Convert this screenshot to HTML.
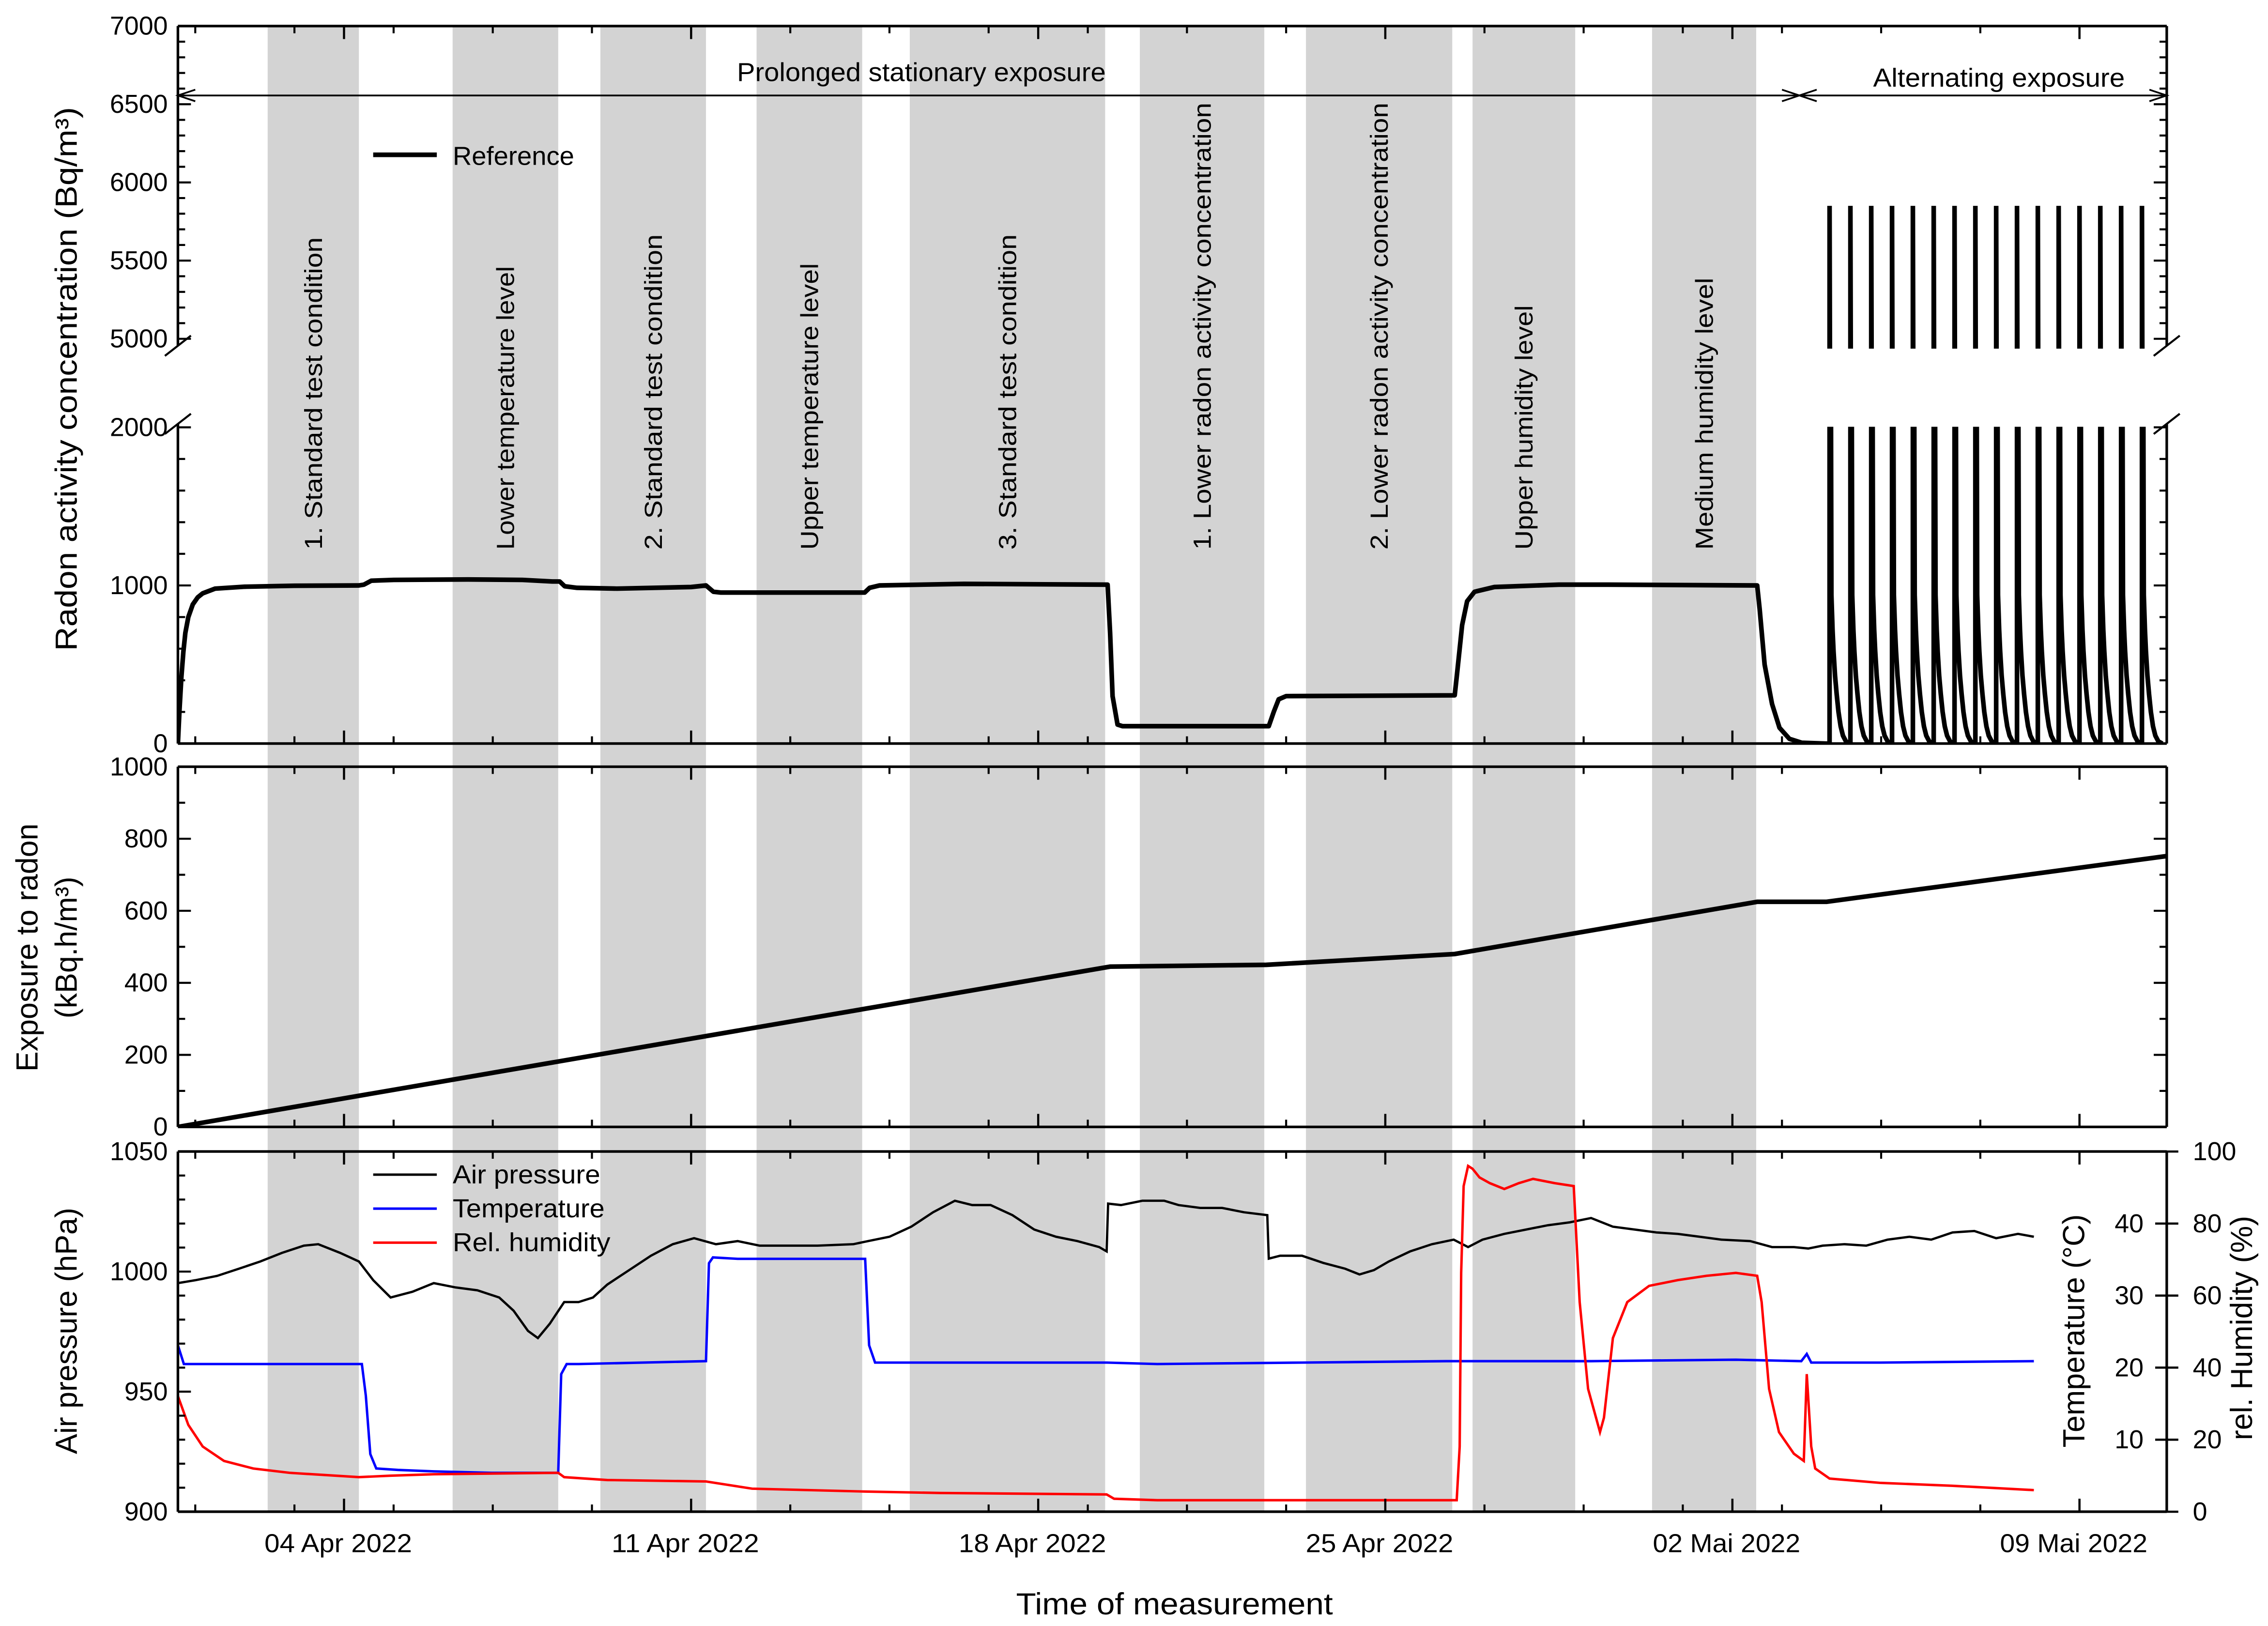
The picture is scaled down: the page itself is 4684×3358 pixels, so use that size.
<!DOCTYPE html>
<html><head><meta charset="utf-8"><title>Radon exposure chart</title>
<style>
html,body{margin:0;padding:0;background:#fff;}
svg{display:block;font-family:"Liberation Sans",Arial,sans-serif;}
</style></head>
<body>
<svg id="chart" xmlns="http://www.w3.org/2000/svg" width="4684" height="3358" viewBox="0 0 1568 1124" preserveAspectRatio="none">
<defs>
<clipPath id="clipUpper"><rect x="123" y="18" width="1375" height="223"/></clipPath>
<clipPath id="clipLower"><rect x="123" y="295" width="1375" height="219"/></clipPath>
<clipPath id="clipMid"><rect x="123" y="530" width="1375" height="249"/></clipPath>
<clipPath id="clipBot"><rect x="123" y="796" width="1375" height="249"/></clipPath>
</defs>
<g id="bands"></g>
<g id="series"></g>
<g id="axes"></g>
<g id="labels"></g>
</svg>
<script>
// ---------- data ----------
const bandStarts = [-1.54, 2.19, 5.17, 8.32, 11.41, 16.05, 19.40, 22.76, 26.38];
const bandEnds   = [0.30, 4.32, 7.30, 10.45, 15.35, 18.56, 22.35, 24.83, 28.48];
const bandLabels = ["1. Standard test condition","Lower temperature level","2. Standard test condition","Upper temperature level","3. Standard test condition","1. Lower radon activity concentration","2. Lower radon activity concentration","Upper humidity level","Medium humidity level"];
const bandLabelLens = [216,196,218,198,218,309,309,169,188];

const radonDays = [-3.35,-3.32,-3.28,-3.24,-3.2,-3.14,-3.05,-2.95,-2.85,-2.6,-2.0,-1.0,0.3,0.4,0.55,1.0,2.5,3.6,4.2,4.35,4.45,4.7,5.5,7.0,7.3,7.45,7.6,10.5,10.6,10.8,12.5,15.4,15.45,15.5,15.6,15.7,18.65,18.75,18.85,19.0,22.4,22.45,22.5,22.55,22.65,22.8,23.2,24.5,25.5,28.5,28.55,28.65,28.8,28.95,29.15,29.4,29.9];
const radonVals = [0,200,420,580,700,800,880,925,950,980,992,998,1000,1005,1030,1035,1038,1035,1025,1025,995,985,980,990,1000,960,955,955,985,1000,1010,1005,700,300,120,110,110,200,280,300,305,450,600,750,900,960,990,1005,1005,1000,850,500,250,100,30,5,0];

const spikeTimes = [29.96,30.38,30.80,31.22,31.64,32.06,32.48,32.90,33.32,33.74,34.16,34.58,35.00,35.42,35.84,36.26];
const spikePeaks = [5850,5850,5850,5850,5850,5850,5850,5850,5850,5850,5850,5850,5850,5850,5850,5850];
const decayOffsets = [0,0.037,0.06,0.08,0.11,0.143,0.18,0.223,0.27,0.33,0.41];
const decayValues  = [5850,940,720,585,430,313,200,109,50,14,0];

const exposureDays = [-3.35,15.45,18.6,22.4,28.5,29.9,36.76];
const exposureVals = [0,445,450,480,625,625,752];

const pressureDays = [-3.35,-3.00,-2.56,-2.12,-1.69,-1.25,-0.81,-0.52,-0.08,0.30,0.59,0.94,1.38,1.81,2.25,2.69,3.13,3.42,3.71,3.91,4.15,4.44,4.73,5.02,5.31,5.75,6.19,6.63,7.06,7.50,7.94,8.38,8.96,9.55,10.27,10.57,11.00,11.44,11.88,12.32,12.67,13.04,13.48,13.92,14.36,14.79,15.23,15.38,15.41,15.67,16.10,16.54,16.83,17.27,17.71,18.15,18.62,18.65,18.88,19.32,19.75,20.19,20.48,20.77,21.07,21.50,21.94,22.38,22.67,22.96,23.40,23.84,24.28,24.72,25.15,25.59,26.03,26.47,26.90,27.34,27.78,28.36,28.80,29.24,29.53,29.82,30.26,30.70,31.13,31.57,32.01,32.44,32.88,33.32,33.76,34.08];
const pressureVals = [995.2,996.4,998.2,1001.2,1004.2,1007.8,1010.8,1011.4,1007.8,1004.2,996.4,989.2,991.6,995.2,993.4,992.2,989.2,983.7,975.3,972.3,978.3,987.3,987.3,989.2,994.6,1000.6,1006.6,1011.4,1013.9,1011.4,1012.7,1010.8,1010.8,1010.8,1011.4,1012.7,1014.5,1018.7,1024.7,1029.5,1027.7,1027.7,1023.5,1017.5,1014.5,1012.7,1010.2,1008.4,1028.3,1027.7,1029.5,1029.5,1027.7,1026.5,1026.5,1024.7,1023.5,1005.4,1006.6,1006.6,1003.6,1001.2,998.8,1000.6,1004.2,1008.4,1011.4,1013.3,1010.2,1013.3,1015.7,1017.5,1019.3,1020.5,1022.3,1018.7,1017.5,1016.3,1015.7,1014.5,1013.3,1012.7,1010.2,1010.2,1009.6,1010.8,1011.4,1010.8,1013.3,1014.5,1013.3,1016.3,1016.9,1013.9,1015.7,1014.5];

const tempDays = [-3.35,-3.23,0.36,0.44,0.53,0.65,1.09,1.81,2.98,4.32,4.38,4.49,4.73,7.30,7.36,7.44,7.94,10.51,10.59,10.71,11.14,15.38,16.40,19.32,22.23,25.15,28.07,29.39,29.50,29.59,30.99,34.08];
const tempVals = [23.1,20.5,20.5,16.1,8.0,6.0,5.8,5.6,5.4,5.4,19.1,20.5,20.5,20.9,34.5,35.3,35.1,35.1,23.1,20.7,20.7,20.7,20.5,20.7,20.9,20.9,21.1,20.9,21.9,20.7,20.7,20.9];

const humDays = [-3.35,-3.14,-2.85,-2.42,-1.83,-1.10,0.30,0.94,1.81,4.32,4.44,5.31,7.30,8.23,10.51,12.03,15.38,15.53,16.40,19.32,22.44,22.50,22.53,22.58,22.67,22.76,22.90,23.11,23.40,23.69,23.98,24.42,24.80,24.92,25.09,25.33,25.41,25.59,25.88,26.32,26.90,27.48,28.07,28.50,28.59,28.74,28.94,29.24,29.44,29.50,29.59,29.67,29.96,30.99,32.44,34.08];
const humVals = [32.1,24.1,18.1,14.1,12.0,10.8,9.6,10.0,10.4,10.8,9.6,8.8,8.4,6.4,5.6,5.2,4.8,3.6,3.2,3.2,3.2,18.1,66.3,90.4,96.0,95.2,92.8,91.2,89.6,91.2,92.4,91.2,90.4,58.2,34.1,22.1,26.1,48.2,58.2,62.7,64.3,65.5,66.3,65.5,58.2,34.1,22.1,16.1,14.1,38.2,18.1,12.0,9.2,8.0,7.2,6.0];

const xMajorDays = [0,7,14,21,28,35];
const xMajorLabels = ["04 Apr 2022","11 Apr 2022","18 Apr 2022","25 Apr 2022","02 Mai 2022","09 Mai 2022"];
const xMinorDays = [-3,-1,1,3,5,9,11,13,15,17,19,23,25,27,29,31,33];
const upperTicks = [5000,5500,6000,6500,7000];
const lowerTicks = [0,1000,2000];
const expTicks = [0,200,400,600,800,1000];
const presTicks = [900,950,1000,1050];
const tempTicks = [10,20,30,40];
const humTicks = [0,20,40,60,80,100];

// ---------- scales ----------
const X0 = 123, X1 = 1498, D0 = -3.35, D1 = 36.76;
function X(d){ return X0 + (d - D0) * (X1 - X0) / (D1 - D0); }
function yUpper(v){ return 18 + (7000 - v) * 216.2 / 2000; }
function yLower(v){ return 514 - v * 0.1093; }
function yExp(v){ return 779 - v * 0.249; }
function yPres(p){ return 1045 - (p - 900) * 249 / 150; }
function yTemp(t){ return 1045 - t * 249 / 50; }
function yHum(h){ return 1045 - h * 249 / 100; }

const NS = "http://www.w3.org/2000/svg";
function mk(tag, attrs, parent){ const e = document.createElementNS(NS, tag); for (const k in attrs) e.setAttribute(k, attrs[k]); parent.appendChild(e); return e; }
const gB = document.getElementById('bands'), gS = document.getElementById('series'), gA = document.getElementById('axes'), gL = document.getElementById('labels');

// ---------- bands ----------
bandStarts.forEach((s, i) => {
  const r = mk('rect', {x: X(s), y: 18, width: X(bandEnds[i]) - X(s), height: 1027, fill: '#d3d3d3'}, gB);
  
  
  const cx = (X(s) + X(bandEnds[i])) / 2 + 6;
  const t = mk('text', {x: 0, y: 0, transform: `translate(${cx},380) rotate(-90)`, 'font-size': 17, textLength: bandLabelLens[i], lengthAdjust: 'spacingAndGlyphs'}, gL);
  t.textContent = bandLabels[i];
  
  
});

// ---------- radon series ----------
function pathFrom(days, vals, yf){ return days.map((d, i) => (i ? 'L' : 'M') + X(d).toFixed(2) + ',' + yf(vals[i]).toFixed(2)).join(''); }
let rd = [], rv = [];
radonDays.forEach((d, i) => { rd.push(d); rv.push(radonVals[i]); });
spikeTimes.forEach((t0, k) => {
  rd.push(t0); rv.push(0);
  decayOffsets.forEach((o, j) => { rd.push(t0 + o); rv.push(decayValues[j] * spikePeaks[k] / decayValues[0]); });
});
const radLower = mk('path', {d: pathFrom(rd, rv, yLower), fill: 'none', stroke: '#000', 'stroke-width': 3.2, 'stroke-linejoin': 'round', 'clip-path': 'url(#clipLower)'}, gS);


const radUpper = mk('path', {d: pathFrom(rd, rv, yUpper), fill: 'none', stroke: '#000', 'stroke-width': 3.2, 'stroke-linecap': 'round', 'clip-path': 'url(#clipUpper)'}, gS);



const expLine = mk('path', {d: pathFrom(exposureDays, exposureVals, yExp), fill: 'none', stroke: '#000', 'stroke-width': 3.2, 'clip-path': 'url(#clipMid)'}, gS);



const presLine = mk('path', {d: pathFrom(pressureDays, pressureVals, yPres), fill: 'none', stroke: '#000', 'stroke-width': 1.6, 'clip-path': 'url(#clipBot)'}, gS);


const tempLine = mk('path', {d: pathFrom(tempDays, tempVals, yTemp), fill: 'none', stroke: '#0000ff', 'stroke-width': 1.7, 'clip-path': 'url(#clipBot)'}, gS);


const humLine = mk('path', {d: pathFrom(humDays, humVals, yHum), fill: 'none', stroke: '#ff0000', 'stroke-width': 1.7, 'clip-path': 'url(#clipBot)'}, gS);



// ---------- axes ----------
function line(x1, y1, x2, y2, w, name){
  const l = mk('line', {x1, y1, x2, y2, stroke: '#000', 'stroke-width': w || 1.6}, gA);
  
  
  return l;
}
function text(x, y, s, size, anchor, name, extra){
  const t = mk('text', Object.assign({x, y, 'font-size': size, 'text-anchor': anchor || 'start'}, extra || {}), gL);
  t.textContent = s;
  
  
  return t;
}
line(X0, 18, X1, 18, 1.8, 'top-frame');
line(X0, 514, X1, 514, 1.8, 'top-frame');
[X0, X1].forEach(x => { line(x, 18, x, 239, 1.8, 'axis-break-side'); line(x, 293, x, 514, 1.8, 'axis-break-side');
  line(x - 9, 246, x + 9, 232, 1.4, 'axis-break-mark'); line(x - 9, 300, x + 9, 286, 1.4, 'axis-break-mark'); });
[[530, 779], [796, 1045]].forEach(([a, b]) => {
  line(X0, a, X1, a, 1.8, 'panel-frame'); line(X0, b, X1, b, 1.8, 'panel-frame');
  line(X0, a, X0, b, 1.8, 'panel-frame'); line(X1, a, X1, b, 1.8, 'panel-frame');
});
[[18, 514], [530, 779], [796, 1045]].forEach(([a, b]) => {
  xMajorDays.forEach(d => { line(X(d), a, X(d), a + 9, 1.5, 'x-major-tick'); line(X(d), b, X(d), b - 9, 1.5, 'x-major-tick'); });
  xMinorDays.forEach(d => { line(X(d), a, X(d), a + 5, 1.4, 'x-minor-tick'); line(X(d), b, X(d), b - 5, 1.4, 'x-minor-tick'); });
});
xMajorDays.forEach((d, i) => text(X(d) - 4, 1073, xMajorLabels[i], 18, 'middle', 'x-tick-label', {textLength: 102, lengthAdjust: 'spacingAndGlyphs'}));
function yTicks(vals, yf, major, minorStep, lo, hi){
  for (let v = lo; v <= hi + 1e-6; v += minorStep) {
    const y = yf(v), isMaj = vals.indexOf(v) >= 0 || (major && v % major === 0);
    const len = isMaj ? 9 : 5;
    line(X0, y, X0 + len, y, 1.4, 'y-tick'); line(X1, y, X1 - len, y, 1.4, 'y-tick');
  }
}
yTicks(upperTicks, yUpper, 500, 100, 5000, 7000);
yTicks(lowerTicks, yLower, 1000, 200, 0, 2000);
yTicks(expTicks, yExp, 200, 100, 0, 1000);
for (let v = 900; v <= 1050; v += 10) { const len = v % 50 === 0 ? 9 : 5; line(X0, yPres(v), X0 + len, yPres(v), 1.4, 'pressure-tick'); }
humTicks.forEach(h => line(X1 - 8, yHum(h), X1 + 8, yHum(h), 1.5, 'humidity-tick'));
upperTicks.forEach(v => text(116, yUpper(v) + 6, String(v), 18, 'end', 'radon-tick-label'));
lowerTicks.forEach(v => text(116, yLower(v) + 6, String(v), 18, 'end', 'radon-tick-label'));
expTicks.forEach(v => text(116, yExp(v) + 6, String(v), 18, 'end', 'exposure-tick-label'));
presTicks.forEach(v => text(116, yPres(v) + 6, String(v), 18, 'end', 'pressure-tick-label'));
tempTicks.forEach(v => text(1482, yTemp(v) + 6, String(v), 18, 'end', 'temperature-tick-label'));
humTicks.forEach(v => text(1516, yHum(v) + 6, String(v), 18, 'start', 'humidity-tick-label'));

text(0, 0, 'Radon activity concentration (Bq/m³)', 21, 'middle', 'radon-axis-title', {transform: 'translate(53,262) rotate(-90)', textLength: 376, lengthAdjust: 'spacingAndGlyphs'});
text(0, 0, 'Exposure to radon', 21, 'middle', 'exposure-axis-title', {transform: 'translate(26,655) rotate(-90)'});
text(0, 0, '(kBq.h/m³)', 21, 'middle', 'exposure-axis-unit', {transform: 'translate(53,655) rotate(-90)'});
text(0, 0, 'Air pressure (hPa)', 21, 'middle', 'pressure-axis-title', {transform: 'translate(53,920) rotate(-90)'});
text(0, 0, 'Temperature (°C)', 21, 'middle', 'temperature-axis-title', {transform: 'translate(1441,920) rotate(-90)'});
text(0, 0, 'rel. Humidity (%)', 21, 'middle', 'humidity-axis-title', {transform: 'translate(1557,918) rotate(-90)'});
text(812, 1116, 'Time of measurement', 21, 'middle', 'x-axis-title', {textLength: 219, lengthAdjust: 'spacingAndGlyphs'});

function pl(pts, name){ const p = mk('polyline', {points: pts, fill: 'none', stroke: '#000', 'stroke-width': 1.2}, gA);   }
pl('123,66 1244,66', 'prolonged-arrow-line');
pl('135,62 123,66 135,70', 'arrowhead');
pl('1232,62 1244,66 1232,70', 'arrowhead');
pl('1256,62 1244,66 1256,70', 'arrowhead');
pl('1244,66 1498,66', 'alternating-arrow-line');
pl('1486,62 1498,66 1486,70', 'arrowhead');
text(637, 56, 'Prolonged stationary exposure', 18, 'middle', 'prolonged-label', {textLength: 255, lengthAdjust: 'spacingAndGlyphs'});
text(1382, 60, 'Alternating exposure', 18, 'middle', 'alternating-label', {textLength: 174, lengthAdjust: 'spacingAndGlyphs'});

const lg1 = mk('line', {x1: 258, y1: 107, x2: 302, y2: 107, stroke: '#000', 'stroke-width': 3.2}, gA);


text(313, 114, 'Reference', 18, 'start', 'legend-reference-label', {textLength: 84, lengthAdjust: 'spacingAndGlyphs'});
const legNames = ['Air pressure', 'Temperature', 'Rel. humidity'];
const legColors = ['#000', '#0000ff', '#ff0000'];
const legLens = [102, 105, 109];
legNames.forEach((n, i) => {
  const y = 812 + i * 23.5;
  const l = mk('line', {x1: 258, y1: y, x2: 302, y2: y, stroke: legColors[i], 'stroke-width': 1.7}, gA);
  
  
  text(313, y + 6, n, 18, 'start', 'legend-label', {textLength: legLens[i], lengthAdjust: 'spacingAndGlyphs'});
});
</script>
</body></html>
